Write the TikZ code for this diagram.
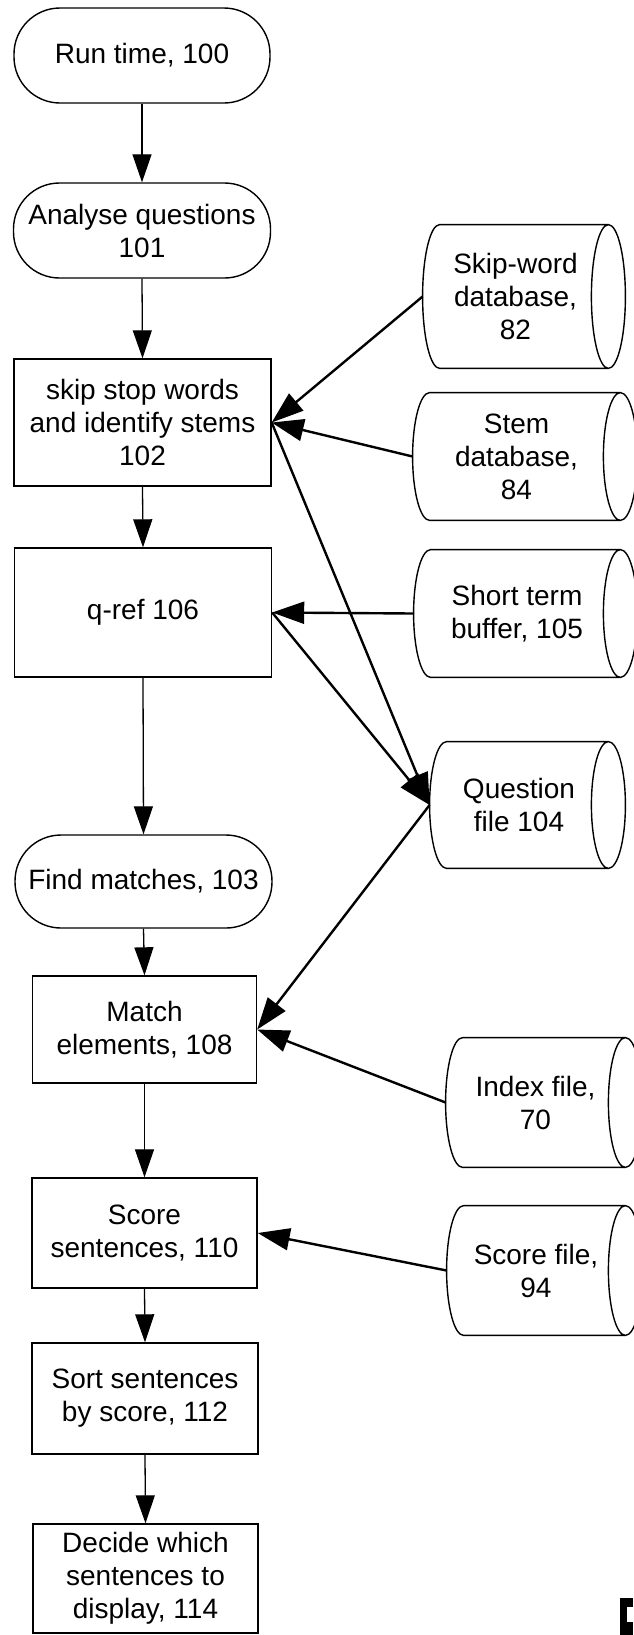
\documentclass[tikz,border=0pt]{standalone}
\usepackage{fontspec}
\setmainfont{Liberation Sans}
\usetikzlibrary{arrows.meta,calc}
\newcommand\dbdraw[1]{%
  \draw[line width=0.7pt] let \p1=(#1.north west), \p2=(#1.south east), \n1={(\y1-\y2)/2} in
    (#1.north east) -- ([xshift=8.5pt]#1.north west)
      arc[start angle=90, end angle=270, x radius=8.5pt, y radius={\n1*1pt}]
      -- (#1.south east)
    (#1.east) ellipse[x radius=8.5pt, y radius={\n1*1pt}];}
\begin{document}
\begin{tikzpicture}[x=0.5pt,y=-0.5pt,
  every node/.style={font=\fontsize{14pt}{16.5pt}\selectfont, align=center, inner sep=0pt},
  term/.style={draw, line width=0.7pt, rectangle, rounded corners=23pt},
  proc/.style={draw, line width=0.7pt, rectangle},
  db/.style={rectangle, draw=none},
  flow/.style={line width=0.65pt, -{Triangle[length=14pt,width=9.5pt]}},
  feed/.style={line width=1.2pt, -{Triangle[length=16pt,width=11pt]}}
]
\useasboundingbox (0,0) rectangle (633,1635);

% main column
\node[term, minimum width=128pt, minimum height=47.5pt] (run) at (142,55.5) {Run time, 100};
\node[term, minimum width=128.5pt, minimum height=47.5pt] (analyse) at (142,230.5) {Analyse questions\\101};
\node[proc, minimum width=128.5pt, minimum height=63.5pt] (skip) at (142.5,422.5) {skip stop words\\and identify stems\\102};
\node[proc, minimum width=128.5pt, minimum height=64.5pt] (qref) at (143,612.5) {q-ref 106};
\node[term, minimum width=128.5pt, minimum height=46.5pt] (find) at (143.5,881.5) {Find matches, 103};
\node[proc, minimum width=112pt, minimum height=53.5pt] (match) at (144.5,1029.5) {Match\\elements, 108};
\node[proc, minimum width=112.5pt, minimum height=55pt] (score) at (144.5,1233) {Score\\sentences, 110};
\node[proc, minimum width=113pt, minimum height=55.5pt] (sort) at (145,1398.5) {Sort sentences\\by score, 112};
\node[proc, minimum width=112.5pt, minimum height=54.5pt] (decide) at (145.5,1578.5) {Decide which\\sentences to\\display, 114};

% data stores (node spans from the left bulge to the right rim)
\node[db, minimum width=92.5pt, minimum height=71.5pt] (skipword) at (515.5,296.5) {Skip-word\\database,\\82};
\node[db, minimum width=103.5pt, minimum height=63.5pt] (stem) at (516.5,456.5) {Stem\\database,\\84};
\node[db, minimum width=103pt, minimum height=63.5pt] (buffer) at (517,613.5) {Short term\\buffer, 105};
\node[db, minimum width=89pt, minimum height=63pt] (question) at (519,805) {Question\\file 104};
\node[db, minimum width=89.5pt, minimum height=64.5pt] (index) at (535.5,1102.5) {Index file,\\70};
\node[db, minimum width=89pt, minimum height=64.5pt] (scorefile) at (536,1270.5) {Score file,\\94};
\dbdraw{skipword}
\dbdraw{stem}
\dbdraw{buffer}
\dbdraw{question}
\dbdraw{index}
\dbdraw{scorefile}

% main flow
\draw[flow] (run.south) -- (analyse.north);
\draw[flow] (analyse.south) -- (skip.north);
\draw[flow] (skip.south) -- (qref.north);
\draw[flow] (qref.south) -- (find.north);
\draw[flow] (find.south) -- (match.north);
\draw[flow] (match.south) -- (score.north);
\draw[flow] (score.south) -- (sort.north);
\draw[flow] (sort.south) -- (decide.north);

% side connections
\draw[feed] (skipword.west) -- (skip.east);
\draw[feed] (stem.west) -- (skip.east);
\draw[feed] (buffer.west) -- (qref.east);
\draw[feed] (skip.east) -- (question.west);
\draw[feed] (qref.east) -- (question.west);
\draw[feed] (question.west) -- (match.east);
\draw[feed] (index.west) -- (match.east);
\draw[feed] (scorefile.west) -- (score.east);

% scan mark at bottom right
\fill[black] (620,1598) rectangle (633,1635);
\fill[white] (627,1607) rectangle (633,1622);
\end{tikzpicture}
\end{document}
